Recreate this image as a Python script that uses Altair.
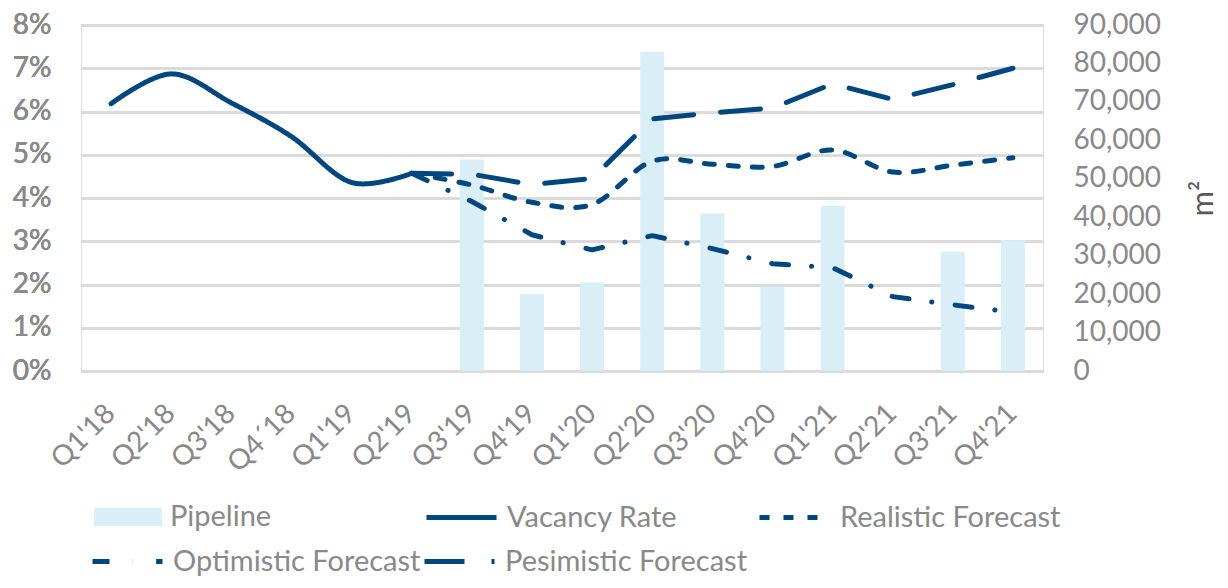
import altair as alt
import pandas as pd

quarters = ["Q1'18", "Q2'18", "Q3'18", "Q4´18", "Q1'19", "Q2'19", "Q3'19", "Q4'19",
            "Q1'20", "Q2'20", "Q3'20", "Q4'20", "Q1'21", "Q2'21", "Q3'21", "Q4'21"]
pipeline_m2 = [None, None, None, None, None, None, 55000, 20000,
               23000, 83000, 41000, 22000, 43000, None, 31000, 34000]
vacancy_rate = [6.18, 6.87, 6.20, 5.42, 4.36, 4.57] + [None] * 10
realistic = [None] * 5 + [4.57, 4.30, 3.90, 3.85, 4.85, 4.78, 4.73, 5.11, 4.60, 4.76, 4.93]
optimistic = [None] * 5 + [4.57, 3.92, 3.15, 2.80, 3.13, 2.83, 2.48, 2.39, 1.72, 1.53, 1.36]
pesimistic = [None] * 5 + [4.57, 4.55, 4.31, 4.45, 5.83, 5.97, 6.08, 6.64, 6.28, 6.62, 7.00]

LINE_COLOR = "#00467F"
BAR_COLOR = "#DAEEF8"
LABEL_COLOR = "#898989"
FONT = "Lato"

bar_df = pd.DataFrame({"quarter": quarters, "pipeline": pipeline_m2,
                       "series": "Pipeline"}).dropna()


def series_df(name, vals):
    rows = [{"quarter": q, "series": name, "rate": v / 100.0}
            for q, v in zip(quarters, vals) if v is not None]
    return pd.DataFrame(rows)


x_enc = alt.X(
    "quarter:N", sort=quarters,
    scale=alt.Scale(domain=quarters, paddingInner=0, paddingOuter=0),
    axis=alt.Axis(title=None, labelAngle=315, labelAlign="right", labelBaseline="middle",
                  labelPadding=38, labelFontSize=28, labelColor=LABEL_COLOR, labelFont=FONT,
                  domain=False, ticks=False, grid=False, labelOverlap=False),
)


def leg(x, y, **kw):
    d = dict(title=None, orient="none", legendX=x, legendY=y, direction="horizontal",
             labelFontSize=29, labelColor=LABEL_COLOR, labelFont=FONT,
             labelOffset=8, labelLimit=400)
    d.update(kw)
    return alt.Legend(**d)


bars = alt.Chart(bar_df).mark_bar(size=24).encode(
    x=x_enc,
    y=alt.Y("pipeline:Q", scale=alt.Scale(domain=[0, 90000], nice=False),
            axis=alt.Axis(orient="right", values=list(range(0, 90001, 10000)), format=",.0f",
                          grid=False, domain=False, ticks=False, labelPadding=30,
                          labelFontSize=28, labelColor=LABEL_COLOR, labelFont=FONT,
                          title="m²", titleAngle=270, titleFontSize=31, titleFont=FONT,
                          titleFontWeight="normal", titleColor="#595959", titlePadding=59)),
    color=alt.Color("series:N", scale=alt.Scale(domain=["Pipeline"], range=[BAR_COLOR]),
                    legend=leg(13, 458, symbolType="M-1,-0.265H1V0.265H-1Z",
                               symbolSize=4624, symbolStrokeWidth=0)),
)

y_lines = alt.Y("rate:Q", scale=alt.Scale(domain=[0, 0.08], nice=False),
                axis=alt.Axis(orient="left", values=[i / 100 for i in range(0, 9)], format=".0%",
                              grid=True, gridColor="#D9D9D9", gridWidth=2, domain=False,
                              ticks=False, labelPadding=30, labelFontSize=28,
                              labelColor=LABEL_COLOR, labelFont=FONT, title=None))


def line_layer(name, vals, dash, interp, lx, ly):
    lg = dict(symbolType="stroke", symbolSize=4900, symbolStrokeWidth=5)
    return alt.Chart(series_df(name, vals)).mark_line(
        strokeWidth=5, strokeCap="round", strokeJoin="round", interpolate=interp
    ).encode(
        x=x_enc,
        y=y_lines,
        color=alt.Color("series:N", scale=alt.Scale(domain=[name], range=[LINE_COLOR]),
                        legend=leg(lx, ly, **lg)),
        strokeDash=alt.StrokeDash("series:N", scale=alt.Scale(domain=[name], range=[dash]),
                                  legend=leg(lx, ly, **lg)),
    )


l_vac = line_layer("Vacancy Rate", vacancy_rate, [1, 0], "cardinal", 343, 455)
l_real = line_layer("Realistic Forecast", realistic, [10, 14], "cardinal", 676, 455)
l_opt = line_layer("Optimistic Forecast", optimistic, [17, 23, 0.1, 23.5], "linear", 9, 499)
l_pes = line_layer("Pesimistic Forecast", pesimistic, [40, 27], "linear", 341, 499)

chart = alt.layer(bars, l_vac, l_real, l_opt, l_pes).resolve_scale(
    y="independent", color="independent", strokeDash="independent"
).properties(
    width=962, height=346,
    autosize=alt.AutoSizeParams(type="none"),
    padding={"left": 73, "top": 17, "right": 177, "bottom": 207},
).configure_view(stroke=None).configure(font=FONT)

chart.save("out.html", embed_options={"renderer": "svg", "actions": False})
